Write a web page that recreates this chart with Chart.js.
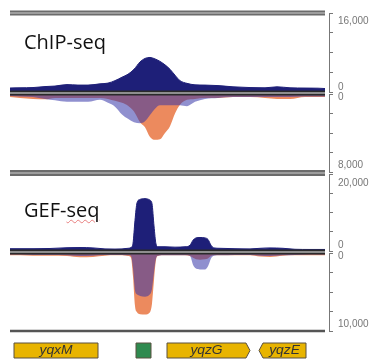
<!DOCTYPE html>
<html>
<head>
<meta charset="utf-8">
<script src="https://cdn.jsdelivr.net/npm/chart.js@4.4.1/dist/chart.umd.min.js"></script>
<style>
  body { margin: 0; background: #fff; }
  #wrap { position: relative; width: 373px; height: 361px; overflow: hidden; }
  #wrap canvas { position: absolute; left: 0; top: 0; }
  .track { position: absolute; left: 24px; font: 20px 'Open Sans', sans-serif; line-height: 20px; color: #111; white-space: nowrap; }
  .typo { text-decoration: underline wavy rgba(225, 90, 90, 0.75); text-decoration-thickness: 1px; text-underline-offset: 2px; }
</style>
</head>
<body>
<div id="wrap">
  <canvas id="chipUp" width="373" height="361"></canvas>
  <canvas id="chipDown" width="373" height="361"></canvas>
  <canvas id="gefUp" width="373" height="361"></canvas>
  <canvas id="gefDown" width="373" height="361"></canvas>
  <canvas id="genes" width="373" height="361"></canvas>
  <div class="track" style="top:32px">ChIP-seq</div>
  <div class="track" style="top:200px">GEF-<span class="typo">seq</span></div>
</div>
<script>
// positions along the window (arbitrary units, 0 = left edge of the tracks)
const chipPos = [0, 10, 23, 35, 45, 57, 68, 78, 90, 98, 105, 112, 118, 124, 130, 135, 140, 145, 150, 155,
  160, 165, 170, 177, 185, 195, 208, 223, 240, 255, 267, 280, 295, 308, 315];
const chipPlus = [810, 850, 900, 1100, 1200, 1500, 1400, 1400, 1650, 1800, 2300, 3000, 3600, 4600, 6100, 6800, 7000, 6700, 6200, 5500,
  4600, 3400, 2300, 1750, 1450, 1400, 1300, 1050, 900, 850, 1050, 850, 800, 770, 700];
const chipMinusBlue = [200, 250, 300, 500, 650, 800, 800, 800, 600, 900, 1300, 2100, 2550, 2900, 3000, 2800, 2150, 1500, 1150, 1150,
  1150, 1150, 1150, 1250, 800, 500, 400, 300, 300, 300, 300, 300, 250, 250, 250];
const chipMinusOrange = [300, 400, 500, 550, 400, 400, 400, 400, 400, 500, 700, 900, 1200, 1800, 2900, 3400, 4400, 4700, 4650, 4000,
  3300, 2000, 1100, 600, 500, 400, 400, 300, 300, 400, 500, 500, 300, 300, 300];

const gefPos = [0, 10, 23, 40, 57, 70, 83, 95, 105, 112, 118, 121, 123, 125, 127, 130, 135, 140, 142, 144, 146, 148,
  155, 165, 175, 180, 183, 186, 190, 195, 198, 201, 204, 210, 225, 240, 250, 260, 273, 285, 300, 315];
const gefPlus = [600, 600, 600, 650, 850, 900, 800, 550, 500, 550, 700, 900, 2000, 8000, 12500, 13400, 13600, 13200, 12300, 6500, 1800, 1100,
  1100, 1000, 1100, 1500, 2800, 3400, 3500, 3400, 3000, 1500, 800, 700, 600, 550, 700, 800, 700, 450, 400, 400];
const gefMinusBlue = [200, 200, 250, 250, 300, 400, 350, 250, 250, 250, 300, 400, 2000, 4800, 5300, 5500, 5600, 5300, 4600, 2500, 700, 350,
  300, 300, 300, 400, 1500, 2000, 2100, 2100, 1700, 700, 350, 300, 250, 250, 350, 400, 300, 250, 200, 200];
const gefMinusOrange = [300, 300, 350, 350, 400, 550, 500, 350, 300, 300, 400, 600, 3000, 6800, 7600, 7850, 7900, 7600, 6500, 3500, 900, 400,
  300, 300, 300, 400, 600, 800, 850, 800, 700, 400, 300, 300, 300, 300, 450, 500, 350, 300, 300, 300];

// axis ranges (labels at 0 and at the maximum)
const chipUpMax = 16000, chipDownMax = 8000;
const gefUpMax = 20000, gefDownMax = 10000;

// gene annotation track
const geneNames = ['yqxM', '', 'yqzG', 'yqzE'];
const geneStart = [4, 126, 157, 249];
const geneEnd = [88, 141, 240, 296];
const geneStrand = [0, 0, 1, -1];
const geneColors = ['#e8b400', '#2f8a4f', '#e8b400', '#e8b400'];

const X_MIN = 0, X_MAX = 319, X_END = 315;
const NAVY = '#1e1f78';
const LAV = 'rgba(52, 52, 168, 0.55)';
const ORANGE = '#ec8a5e';

// frame lines and edge labels of each half panel
const deco = {
  id: 'deco',
  afterDraw(chart, args, o) {
    const ctx = chart.ctx, area = chart.chartArea;
    const y = chart.scales.y, x = chart.scales.x;
    const x0 = area.left, x1 = x.getPixelForValue(X_END);
    ctx.save();
    const hline = (py, w, c) => {
      ctx.beginPath();
      ctx.lineWidth = w;
      ctx.strokeStyle = c;
      ctx.moveTo(x0, py);
      ctx.lineTo(x1, py);
      ctx.stroke();
    };
    (o.lines || []).forEach(l => {
      const py = y.getPixelForValue(l.v) + (l.dy || 0);
      if (l.kind === 'double') {
        hline(py, l.w || 5, '#6b6b6b');
        hline(py, 1.2, '#d0d0d0');
      } else if (l.kind === 'zero') {
        hline(py, 5, '#2a2a2a');
        hline(py, 1.8, '#8e8e8e');
      } else {
        hline(py, 2.5, '#555');
      }
    });
    ctx.font = '10px "Liberation Sans", Arial, sans-serif';
    ctx.fillStyle = '#777';
    ctx.textBaseline = 'middle';
    ctx.textAlign = 'left';
    (o.labels || []).forEach(l => {
      ctx.fillText(l.v.toLocaleString('en-US'), area.right + 9, y.getPixelForValue(l.v) + l.dy);
    });
    ctx.restore();
  }
};

function panel(id, pos, sets, max, reverse, top, bottom, decoOpts) {
  return new Chart(document.getElementById(id), {
    type: 'line',
    data: {
      datasets: sets.map(s => ({
        data: pos.map((p, i) => ({ x: p, y: s.vals[i] })),
        fill: 'origin',
        backgroundColor: s.color,
        borderColor: s.color,
        borderWidth: s.border || 0,
        pointRadius: 0,
        cubicInterpolationMode: 'monotone',
        order: s.order
      }))
    },
    options: {
      responsive: false,
      animation: false,
      layout: { padding: { top: top, bottom: 361 - bottom, left: 10, right: 0 } },
      plugins: { legend: { display: false }, tooltip: { enabled: false }, deco: decoOpts },
      scales: {
        x: { type: 'linear', min: X_MIN, max: X_MAX, display: false },
        y: {
          position: 'right',
          min: 0,
          max: max,
          reverse: reverse,
          ticks: { display: false, stepSize: max / 4 },
          grid: { drawOnChartArea: false, tickLength: 4, color: '#777' },
          border: { color: '#777', width: 1 },
          afterFit: s => { s.width = 44; }
        }
      }
    },
    plugins: [deco]
  });
}

panel('chipUp', chipPos, [{ vals: chipPlus, color: NAVY, order: 1, border: 1 }],
  chipUpMax, false, 13, 92,
  { lines: [{ v: chipUpMax, kind: 'double' }], labels: [{ v: chipUpMax, dy: 8 }, { v: 0, dy: -5 }] });

panel('chipDown', chipPos, [
    { vals: chipMinusBlue, color: LAV, order: 1 },
    { vals: chipMinusOrange, color: ORANGE, order: 2 }
  ], chipDownMax, true, 94, 172,
  { lines: [{ v: 0, dy: -1, kind: 'zero' }], labels: [{ v: 0, dy: 3 }, { v: chipDownMax, dy: -7 }] });

panel('gefUp', gefPos, [{ vals: gefPlus, color: NAVY, order: 1, border: 1 }],
  gefUpMax, false, 174, 251,
  { lines: [{ v: gefUpMax, dy: -1, kind: 'double', w: 6 }], labels: [{ v: gefUpMax, dy: 9 }, { v: 0, dy: -5.5 }] });

panel('gefDown', gefPos, [
    { vals: gefMinusBlue, color: LAV, order: 1 },
    { vals: gefMinusOrange, color: ORANGE, order: 2 }
  ], gefDownMax, true, 253, 331,
  { lines: [{ v: 0, dy: -1, kind: 'zero' }, { v: gefDownMax, kind: 'single' }], labels: [{ v: 0, dy: 3 }, { v: gefDownMax, dy: -7 }] });

// gene boxes, drawn on the same x scale as the tracks
const geneTrack = {
  id: 'geneTrack',
  afterDraw(chart) {
    const ctx = chart.ctx, area = chart.chartArea, x = chart.scales.x;
    const t = area.top, b = area.bottom, m = (t + b) / 2, tip = 4;
    ctx.save();
    geneNames.forEach((name, i) => {
      const a = x.getPixelForValue(geneStart[i]), e = x.getPixelForValue(geneEnd[i]);
      ctx.beginPath();
      if (geneStrand[i] > 0) {
        ctx.moveTo(a, t); ctx.lineTo(e - tip, t); ctx.lineTo(e, m); ctx.lineTo(e - tip, b); ctx.lineTo(a, b);
      } else if (geneStrand[i] < 0) {
        ctx.moveTo(e, t); ctx.lineTo(a + tip, t); ctx.lineTo(a, m); ctx.lineTo(a + tip, b); ctx.lineTo(e, b);
      } else {
        ctx.rect(a, t, e - a, b - t);
      }
      ctx.closePath();
      ctx.fillStyle = geneColors[i];
      ctx.fill();
      ctx.lineWidth = 1;
      ctx.strokeStyle = '#5a5040';
      ctx.stroke();
      if (name) {
        const cx = geneStrand[i] > 0 ? (a + e - tip) / 2 : geneStrand[i] < 0 ? (a + tip + e) / 2 : (a + e) / 2;
        ctx.save();
        ctx.translate(cx, m + 0.5);
        ctx.scale(1.15, 1);
        ctx.font = 'italic 12px "Liberation Sans", Arial, sans-serif';
        ctx.fillStyle = '#333';
        ctx.textAlign = 'center';
        ctx.textBaseline = 'middle';
        ctx.fillText(name, 0, 0);
        ctx.restore();
      }
    });
    ctx.restore();
  }
};

new Chart(document.getElementById('genes'), {
  type: 'line',
  data: { datasets: [] },
  options: {
    responsive: false,
    animation: false,
    layout: { padding: { top: 343, bottom: 3, left: 10, right: 44 } },
    plugins: { legend: { display: false }, tooltip: { enabled: false } },
    scales: {
      x: { type: 'linear', min: X_MIN, max: X_MAX, display: false },
      y: { display: false }
    }
  },
  plugins: [geneTrack]
});
</script>
</body>
</html>
